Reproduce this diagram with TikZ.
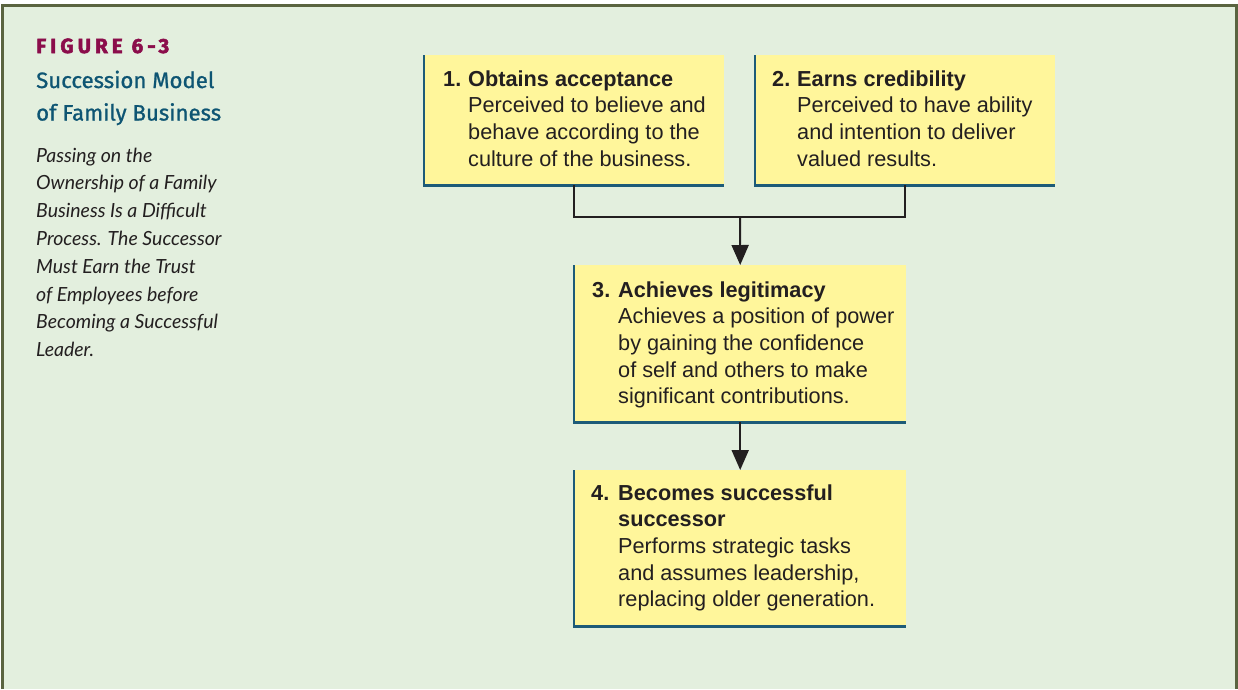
\documentclass[tikz,border=0pt]{standalone}
\usepackage{fontspec}
\setmainfont{Liberation Sans}
\newfontfamily\capfont[FakeBold=1]{Fira Sans}
\newfontfamily\figfont[LetterSpace=20,BoldFeatures={FakeBold=2.5}]{Fira Sans}
\newfontfamily\notefont{Lato}
\usetikzlibrary{arrows.meta}

\definecolor{panel}{HTML}{E3EFDE}
\definecolor{frameolive}{HTML}{5A6440}
\definecolor{stepfill}{HTML}{FFF69B}
\definecolor{stepedge}{HTML}{1D5B78}
\definecolor{figred}{HTML}{8B0D4B}
\definecolor{captiontea}{HTML}{0E5573}
\definecolor{inkgray}{HTML}{231F20}

\begin{document}
\begin{tikzpicture}[x=1pt,y=-1pt,
  frame/.style={draw=frameolive,line width=3.2pt},
  stepbox/.style={fill=stepfill,draw=none,inner sep=0pt,anchor=north west},
  edge/.style={draw=stepedge,line width=2.6pt},
  boxtext/.style={inner sep=0pt,anchor=base west,text=inkgray,
    font=\fontsize{21.7}{26.7}\selectfont},
  conn/.style={draw=inkgray,line width=2pt},
  arr/.style={conn,-{Triangle[length=20pt,width=17pt]}}]

\useasboundingbox (0,0) rectangle (1238,689);
\fill[white] (0,0) rectangle (1238,689);
\fill[panel] (2.5,5.5) rectangle (1236.5,689);
\draw[frame] (2.5,689) -- (2.5,5.5) -- (1236.5,5.5) -- (1236.5,689);

% caption column
\node[inner sep=0pt,anchor=base west,text=figred,
  font=\figfont\bfseries\fontsize{20.5}{22}\selectfont] (fig) at (36,53) {FIGURE 6-3};
\node[inner sep=0pt,anchor=base west,text=captiontea,
  font=\capfont\fontsize{22.2}{32.5}\selectfont] (cap) at (36,88)
  {\begin{tabular}[t]{@{}l@{}}Succession Model\\of Family Business\end{tabular}};
\node[inner sep=0pt,anchor=base west,text=inkgray,
  font=\notefont\itshape\fontsize{19.5}{27.8}\selectfont] (note) at (36,162)
  {\begin{tabular}[t]{@{}l@{}}Passing on the\\Ownership of a Family\\Business Is a Difficult\\
   Process. The Successor\\Must Earn the Trust\\of Employees before\\
   Becoming a Successful\\Leader.\end{tabular}};

% step boxes
\node[stepbox,minimum width=300pt,minimum height=130pt] (b1) at (424,55) {};
\node[stepbox,minimum width=300pt,minimum height=130pt] (b2) at (755,55) {};
\node[stepbox,minimum width=332pt,minimum height=157pt] (b3) at (574,265) {};
\node[stepbox,minimum width=332pt,minimum height=156pt] (b4) at (574,470) {};

\foreach \b in {b1,b2,b3,b4}
  \draw[edge] (\b.north west) -- (\b.south west) -- (\b.south east);

\node[boxtext] (t1) at (443,86)
  {\begin{tabular}[t]{@{}l@{}l@{}}\makebox[25pt][l]{\bfseries 1.}&\bfseries Obtains acceptance\\
   &Perceived to believe and\\&behave according to the\\&culture of the business.\end{tabular}};
\node[boxtext] (t2) at (772,86)
  {\begin{tabular}[t]{@{}l@{}l@{}}\makebox[25pt][l]{\bfseries 2.}&\bfseries Earns credibility\\
   &Perceived to have ability\\&and intention to deliver\\&valued results.\end{tabular}};
\node[boxtext] (t3) at (592,297)
  {\begin{tabular}[t]{@{}l@{}l@{}}\makebox[26pt][l]{\bfseries 3.}&\bfseries Achieves legitimacy\\
   &Achieves a position of power\\&by gaining the confidence\\&of self and others to make\\
   &significant contributions.\end{tabular}};
\node[boxtext] (t4) at (591,500)
  {\begin{tabular}[t]{@{}l@{}l@{}}\makebox[27pt][l]{\bfseries 4.}&\bfseries Becomes successful\\
   &\bfseries successor\\&Performs strategic tasks\\&and assumes leadership,\\
   &replacing older generation.\end{tabular}};

% connectors
\coordinate (j) at (740,217);
\draw[conn] (b1.south) |- (j) -| (b2.south);
\draw[arr] (j) -- (b3.north);
\draw[arr] (b3.south) -- (b4.north);
\end{tikzpicture}
\end{document}
